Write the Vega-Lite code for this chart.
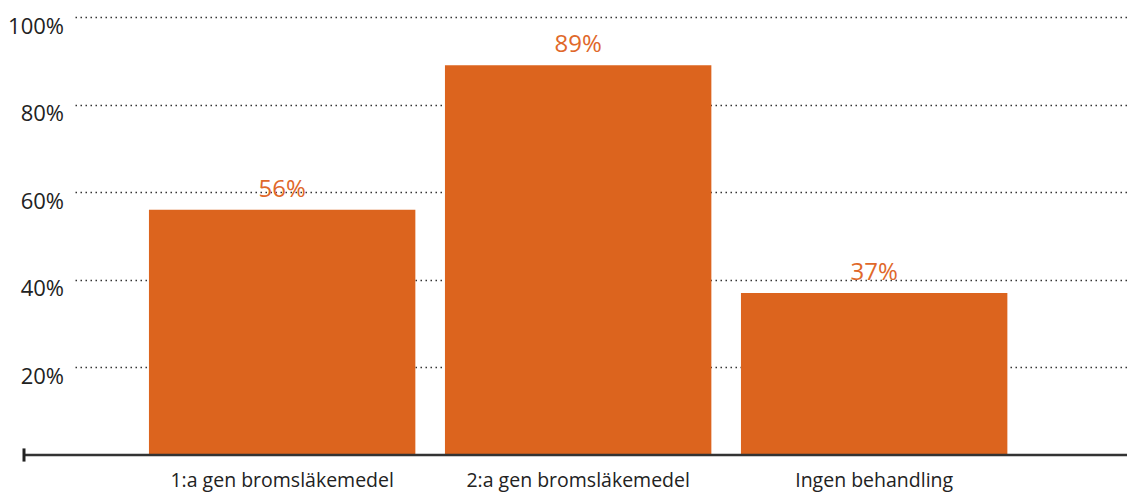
{
  "$schema": "https://vega.github.io/schema/vega-lite/v6.json",
  "width": 1103,
  "height": 438,
  "autosize": "none",
  "padding": {"left": 24, "top": 17, "right": 0, "bottom": 39},
  "background": "white",
  "config": {
    "view": {"stroke": null},
    "font": "Open Sans"
  },
  "layer": [
    {
      "data": {
        "values": [
          {"behandling": "1:a gen bromsläkemedel", "andel": 0.56},
          {"behandling": "2:a gen bromsläkemedel", "andel": 0.89},
          {"behandling": "Ingen behandling", "andel": 0.37}
        ]
      },
      "encoding": {
        "x": {
          "field": "behandling",
          "type": "nominal",
          "sort": null,
          "scale": {"range": [51, 1103], "paddingInner": 0.1, "paddingOuter": 0.327, "align": 0.382},
          "axis": {
            "orient": "bottom",
            "title": null,
            "domain": false,
            "ticks": false,
            "labelAngle": 0,
            "labelPadding": 16,
            "labelFontSize": 19.5,
            "labelColor": "#222222",
            "labelFont": "Open Sans",
            "labelLimit": 400
          }
        },
        "y": {
          "field": "andel",
          "type": "quantitative",
          "scale": {"domain": [0, 1]},
          "axis": {
            "title": null,
            "values": [0.2, 0.4, 0.6, 0.8, 1],
            "format": ".0%",
            "domain": false,
            "ticks": false,
            "tickSize": 0,
            "labelPadding": -39.5,
            "labelAlign": "right",
            "labelBaseline": "alphabetic",
            "labelOffset": 16,
            "labelFontSize": 22,
            "labelColor": "#222222",
            "labelFont": "Open Sans",
            "grid": true,
            "gridColor": "#333333",
            "gridDash": [1.5, 3.5],
            "gridWidth": 1.3
          }
        }
      },
      "layer": [
        {"mark": {"type": "bar", "color": "#DC641E"}},
        {
          "mark": {"type": "text", "baseline": "alphabetic", "dy": -13, "fontSize": 24, "color": "#E0682A", "font": "Open Sans"},
          "encoding": {"text": {"field": "andel", "type": "quantitative", "format": ".0%"}}
        }
      ]
    },
    {
      "data": {"values": [{}]},
      "encoding": {
        "x": {"datum": 0, "type": "quantitative", "scale": {"domain": [0, 1]}, "axis": null}
      },
      "layer": [
        {
          "mark": {"type": "rule", "color": "#333333", "strokeWidth": 2.5},
          "encoding": {
            "x2": {"datum": 1},
            "y": {"datum": 0, "type": "quantitative"}
          }
        },
        {
          "mark": {"type": "rule", "color": "#222222", "strokeWidth": 3},
          "encoding": {
            "y": {"datum": -0.015, "type": "quantitative"},
            "y2": {"datum": 0.015}
          }
        }
      ]
    }
  ],
  "resolve": {"scale": {"x": "independent"}}
}
